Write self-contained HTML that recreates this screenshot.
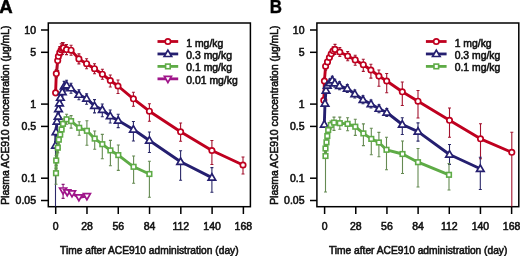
<!DOCTYPE html><html><head><meta charset="utf-8"><style>html,body{margin:0;padding:0;background:#fff;width:520px;height:256px;overflow:hidden}</style></head><body><svg width="520" height="256" viewBox="0 0 520 256" style="display:block;filter:blur(0.3px)">
<rect width="520" height="256" fill="#fff"/>
<text x="-0.70" y="12.7" font-family="Liberation Sans, sans-serif" font-weight="bold" font-size="18.6" stroke="#000" stroke-width="0.5">A</text>
<rect x="48.30" y="23" width="202.1" height="183.7" fill="none" stroke="#000" stroke-width="1.5"/>
<line x1="41.00" y1="30.00" x2="48.30" y2="30.00" stroke="#000" stroke-width="1.5"/>
<text x="36.00" y="33.60" font-family="Liberation Sans, sans-serif" font-size="10.5" stroke="#111" stroke-width="0.55" text-anchor="end" fill="#111">10</text>
<line x1="41.00" y1="52.31" x2="48.30" y2="52.31" stroke="#000" stroke-width="1.5"/>
<text x="36.00" y="55.91" font-family="Liberation Sans, sans-serif" font-size="10.5" stroke="#111" stroke-width="0.55" text-anchor="end" fill="#111">5</text>
<line x1="41.00" y1="104.10" x2="48.30" y2="104.10" stroke="#000" stroke-width="1.5"/>
<text x="36.00" y="107.70" font-family="Liberation Sans, sans-serif" font-size="10.5" stroke="#111" stroke-width="0.55" text-anchor="end" fill="#111">1</text>
<line x1="41.00" y1="126.41" x2="48.30" y2="126.41" stroke="#000" stroke-width="1.5"/>
<text x="36.00" y="130.01" font-family="Liberation Sans, sans-serif" font-size="10.5" stroke="#111" stroke-width="0.55" text-anchor="end" fill="#111">0.5</text>
<line x1="41.00" y1="178.20" x2="48.30" y2="178.20" stroke="#000" stroke-width="1.5"/>
<text x="36.00" y="181.80" font-family="Liberation Sans, sans-serif" font-size="10.5" stroke="#111" stroke-width="0.55" text-anchor="end" fill="#111">0.1</text>
<line x1="41.00" y1="200.51" x2="48.30" y2="200.51" stroke="#000" stroke-width="1.5"/>
<text x="36.00" y="204.11" font-family="Liberation Sans, sans-serif" font-size="10.5" stroke="#111" stroke-width="0.55" text-anchor="end" fill="#111">0.05</text>
<line x1="55.70" y1="206.7" x2="55.70" y2="214" stroke="#000" stroke-width="1.5"/>
<text x="55.70" y="229.6" font-family="Liberation Sans, sans-serif" font-size="10.5" stroke="#111" stroke-width="0.55" text-anchor="middle" fill="#111">0</text>
<line x1="86.98" y1="206.7" x2="86.98" y2="214" stroke="#000" stroke-width="1.5"/>
<text x="86.98" y="229.6" font-family="Liberation Sans, sans-serif" font-size="10.5" stroke="#111" stroke-width="0.55" text-anchor="middle" fill="#111">28</text>
<line x1="118.26" y1="206.7" x2="118.26" y2="214" stroke="#000" stroke-width="1.5"/>
<text x="118.26" y="229.6" font-family="Liberation Sans, sans-serif" font-size="10.5" stroke="#111" stroke-width="0.55" text-anchor="middle" fill="#111">56</text>
<line x1="149.54" y1="206.7" x2="149.54" y2="214" stroke="#000" stroke-width="1.5"/>
<text x="149.54" y="229.6" font-family="Liberation Sans, sans-serif" font-size="10.5" stroke="#111" stroke-width="0.55" text-anchor="middle" fill="#111">84</text>
<line x1="180.82" y1="206.7" x2="180.82" y2="214" stroke="#000" stroke-width="1.5"/>
<text x="180.82" y="229.6" font-family="Liberation Sans, sans-serif" font-size="10.5" stroke="#111" stroke-width="0.55" text-anchor="middle" fill="#111">112</text>
<line x1="212.10" y1="206.7" x2="212.10" y2="214" stroke="#000" stroke-width="1.5"/>
<text x="212.10" y="229.6" font-family="Liberation Sans, sans-serif" font-size="10.5" stroke="#111" stroke-width="0.55" text-anchor="middle" fill="#111">140</text>
<line x1="243.38" y1="206.7" x2="243.38" y2="214" stroke="#000" stroke-width="1.5"/>
<text x="243.38" y="229.6" font-family="Liberation Sans, sans-serif" font-size="10.5" stroke="#111" stroke-width="0.55" text-anchor="middle" fill="#111">168</text>
<text x="60.10" y="253.6" font-family="Liberation Sans, sans-serif" font-size="10.2" stroke="#111" stroke-width="0.55" textLength="178.5" lengthAdjust="spacingAndGlyphs" fill="#111">Time after ACE910 administration (day)</text>
<text transform="translate(9.30,204.8) rotate(-90)" font-family="Liberation Sans, sans-serif" font-size="10.2" stroke="#111" stroke-width="0.55" textLength="179.2" lengthAdjust="spacingAndGlyphs" fill="#111">Plasma ACE910 concentration (μg/mL)</text>
<text transform="translate(269.8,12.8) scale(0.9,1)" x="0" y="0" font-family="Liberation Sans, sans-serif" font-weight="bold" font-size="18.8" stroke="#000" stroke-width="0.4">B</text>
<rect x="316.90" y="23" width="201.9" height="183.7" fill="none" stroke="#000" stroke-width="1.5"/>
<line x1="310.00" y1="30.00" x2="316.90" y2="30.00" stroke="#000" stroke-width="1.5"/>
<text x="304.50" y="33.60" font-family="Liberation Sans, sans-serif" font-size="10.5" stroke="#111" stroke-width="0.55" text-anchor="end" fill="#111">10</text>
<line x1="310.00" y1="52.31" x2="316.90" y2="52.31" stroke="#000" stroke-width="1.5"/>
<text x="304.50" y="55.91" font-family="Liberation Sans, sans-serif" font-size="10.5" stroke="#111" stroke-width="0.55" text-anchor="end" fill="#111">5</text>
<line x1="310.00" y1="104.10" x2="316.90" y2="104.10" stroke="#000" stroke-width="1.5"/>
<text x="304.50" y="107.70" font-family="Liberation Sans, sans-serif" font-size="10.5" stroke="#111" stroke-width="0.55" text-anchor="end" fill="#111">1</text>
<line x1="310.00" y1="126.41" x2="316.90" y2="126.41" stroke="#000" stroke-width="1.5"/>
<text x="304.50" y="130.01" font-family="Liberation Sans, sans-serif" font-size="10.5" stroke="#111" stroke-width="0.55" text-anchor="end" fill="#111">0.5</text>
<line x1="310.00" y1="178.20" x2="316.90" y2="178.20" stroke="#000" stroke-width="1.5"/>
<text x="304.50" y="181.80" font-family="Liberation Sans, sans-serif" font-size="10.5" stroke="#111" stroke-width="0.55" text-anchor="end" fill="#111">0.1</text>
<line x1="310.00" y1="200.51" x2="316.90" y2="200.51" stroke="#000" stroke-width="1.5"/>
<text x="304.50" y="204.11" font-family="Liberation Sans, sans-serif" font-size="10.5" stroke="#111" stroke-width="0.55" text-anchor="end" fill="#111">0.05</text>
<line x1="324.60" y1="206.7" x2="324.60" y2="214" stroke="#000" stroke-width="1.5"/>
<text x="324.60" y="229.6" font-family="Liberation Sans, sans-serif" font-size="10.5" stroke="#111" stroke-width="0.55" text-anchor="middle" fill="#111">0</text>
<line x1="355.77" y1="206.7" x2="355.77" y2="214" stroke="#000" stroke-width="1.5"/>
<text x="355.77" y="229.6" font-family="Liberation Sans, sans-serif" font-size="10.5" stroke="#111" stroke-width="0.55" text-anchor="middle" fill="#111">28</text>
<line x1="386.94" y1="206.7" x2="386.94" y2="214" stroke="#000" stroke-width="1.5"/>
<text x="386.94" y="229.6" font-family="Liberation Sans, sans-serif" font-size="10.5" stroke="#111" stroke-width="0.55" text-anchor="middle" fill="#111">56</text>
<line x1="418.11" y1="206.7" x2="418.11" y2="214" stroke="#000" stroke-width="1.5"/>
<text x="418.11" y="229.6" font-family="Liberation Sans, sans-serif" font-size="10.5" stroke="#111" stroke-width="0.55" text-anchor="middle" fill="#111">84</text>
<line x1="449.28" y1="206.7" x2="449.28" y2="214" stroke="#000" stroke-width="1.5"/>
<text x="449.28" y="229.6" font-family="Liberation Sans, sans-serif" font-size="10.5" stroke="#111" stroke-width="0.55" text-anchor="middle" fill="#111">112</text>
<line x1="480.45" y1="206.7" x2="480.45" y2="214" stroke="#000" stroke-width="1.5"/>
<text x="480.45" y="229.6" font-family="Liberation Sans, sans-serif" font-size="10.5" stroke="#111" stroke-width="0.55" text-anchor="middle" fill="#111">140</text>
<line x1="511.62" y1="206.7" x2="511.62" y2="214" stroke="#000" stroke-width="1.5"/>
<text x="511.62" y="229.6" font-family="Liberation Sans, sans-serif" font-size="10.5" stroke="#111" stroke-width="0.55" text-anchor="middle" fill="#111">168</text>
<text x="328.90" y="253.6" font-family="Liberation Sans, sans-serif" font-size="10.2" stroke="#111" stroke-width="0.55" textLength="178.5" lengthAdjust="spacingAndGlyphs" fill="#111">Time after ACE910 administration (day)</text>
<text transform="translate(277.80,204.8) rotate(-90)" font-family="Liberation Sans, sans-serif" font-size="10.2" stroke="#111" stroke-width="0.55" textLength="179.2" lengthAdjust="spacingAndGlyphs" fill="#111">Plasma ACE910 concentration (μg/mL)</text>
<clipPath id="ca"><rect x="48.3" y="23" width="202.1" height="183.7"/></clipPath>
<clipPath id="cb"><rect x="316.9" y="23" width="201.9" height="183.7"/></clipPath>
<g clip-path="url(#ca)">
<path d="M55.60 92.80 L56.30 73.60 L57.70 60.60 L58.40 56.30 L59.80 52.50 L61.20 49.80 L62.40 48.50 L63.40 47.80 L66.50 49.60 L71.10 50.20 L78.90 58.90 L86.60 63.70 L94.50 68.70 L102.40 74.20 L110.30 80.50 L118.00 86.00 L133.40 98.80 L149.40 111.20 L180.60 131.80 L211.90 150.50 L243.00 165.00" fill="none" stroke="#bf001f" stroke-width="2.9" stroke-linejoin="round"/>
<line x1="55.60" y1="89.80" x2="55.60" y2="95.80" stroke="#a3132e" stroke-width="1.1"/>
<line x1="54.10" y1="89.80" x2="57.10" y2="89.80" stroke="#a3132e" stroke-width="1.1"/>
<line x1="54.10" y1="95.80" x2="57.10" y2="95.80" stroke="#a3132e" stroke-width="1.1"/>
<line x1="56.30" y1="69.60" x2="56.30" y2="77.60" stroke="#a3132e" stroke-width="1.1"/>
<line x1="54.80" y1="69.60" x2="57.80" y2="69.60" stroke="#a3132e" stroke-width="1.1"/>
<line x1="54.80" y1="77.60" x2="57.80" y2="77.60" stroke="#a3132e" stroke-width="1.1"/>
<line x1="57.70" y1="55.60" x2="57.70" y2="70.60" stroke="#a3132e" stroke-width="1.1"/>
<line x1="56.20" y1="55.60" x2="59.20" y2="55.60" stroke="#a3132e" stroke-width="1.1"/>
<line x1="56.20" y1="70.60" x2="59.20" y2="70.60" stroke="#a3132e" stroke-width="1.1"/>
<line x1="58.40" y1="51.30" x2="58.40" y2="61.30" stroke="#a3132e" stroke-width="1.1"/>
<line x1="56.90" y1="51.30" x2="59.90" y2="51.30" stroke="#a3132e" stroke-width="1.1"/>
<line x1="56.90" y1="61.30" x2="59.90" y2="61.30" stroke="#a3132e" stroke-width="1.1"/>
<line x1="59.80" y1="46.50" x2="59.80" y2="58.50" stroke="#a3132e" stroke-width="1.1"/>
<line x1="58.30" y1="46.50" x2="61.30" y2="46.50" stroke="#a3132e" stroke-width="1.1"/>
<line x1="58.30" y1="58.50" x2="61.30" y2="58.50" stroke="#a3132e" stroke-width="1.1"/>
<line x1="61.20" y1="43.80" x2="61.20" y2="55.80" stroke="#a3132e" stroke-width="1.1"/>
<line x1="59.70" y1="43.80" x2="62.70" y2="43.80" stroke="#a3132e" stroke-width="1.1"/>
<line x1="59.70" y1="55.80" x2="62.70" y2="55.80" stroke="#a3132e" stroke-width="1.1"/>
<line x1="62.40" y1="42.50" x2="62.40" y2="54.50" stroke="#a3132e" stroke-width="1.1"/>
<line x1="60.90" y1="42.50" x2="63.90" y2="42.50" stroke="#a3132e" stroke-width="1.1"/>
<line x1="60.90" y1="54.50" x2="63.90" y2="54.50" stroke="#a3132e" stroke-width="1.1"/>
<line x1="63.40" y1="42.80" x2="63.40" y2="52.80" stroke="#a3132e" stroke-width="1.1"/>
<line x1="61.90" y1="42.80" x2="64.90" y2="42.80" stroke="#a3132e" stroke-width="1.1"/>
<line x1="61.90" y1="52.80" x2="64.90" y2="52.80" stroke="#a3132e" stroke-width="1.1"/>
<line x1="66.50" y1="44.60" x2="66.50" y2="54.60" stroke="#a3132e" stroke-width="1.1"/>
<line x1="65.00" y1="44.60" x2="68.00" y2="44.60" stroke="#a3132e" stroke-width="1.1"/>
<line x1="65.00" y1="54.60" x2="68.00" y2="54.60" stroke="#a3132e" stroke-width="1.1"/>
<line x1="71.10" y1="45.20" x2="71.10" y2="55.20" stroke="#a3132e" stroke-width="1.1"/>
<line x1="69.60" y1="45.20" x2="72.60" y2="45.20" stroke="#a3132e" stroke-width="1.1"/>
<line x1="69.60" y1="55.20" x2="72.60" y2="55.20" stroke="#a3132e" stroke-width="1.1"/>
<line x1="78.90" y1="53.90" x2="78.90" y2="63.90" stroke="#a3132e" stroke-width="1.1"/>
<line x1="77.40" y1="53.90" x2="80.40" y2="53.90" stroke="#a3132e" stroke-width="1.1"/>
<line x1="77.40" y1="63.90" x2="80.40" y2="63.90" stroke="#a3132e" stroke-width="1.1"/>
<line x1="86.60" y1="58.70" x2="86.60" y2="68.70" stroke="#a3132e" stroke-width="1.1"/>
<line x1="85.10" y1="58.70" x2="88.10" y2="58.70" stroke="#a3132e" stroke-width="1.1"/>
<line x1="85.10" y1="68.70" x2="88.10" y2="68.70" stroke="#a3132e" stroke-width="1.1"/>
<line x1="94.50" y1="63.70" x2="94.50" y2="73.70" stroke="#a3132e" stroke-width="1.1"/>
<line x1="93.00" y1="63.70" x2="96.00" y2="63.70" stroke="#a3132e" stroke-width="1.1"/>
<line x1="93.00" y1="73.70" x2="96.00" y2="73.70" stroke="#a3132e" stroke-width="1.1"/>
<line x1="102.40" y1="69.20" x2="102.40" y2="79.20" stroke="#a3132e" stroke-width="1.1"/>
<line x1="100.90" y1="69.20" x2="103.90" y2="69.20" stroke="#a3132e" stroke-width="1.1"/>
<line x1="100.90" y1="79.20" x2="103.90" y2="79.20" stroke="#a3132e" stroke-width="1.1"/>
<line x1="110.30" y1="75.00" x2="110.30" y2="87.00" stroke="#a3132e" stroke-width="1.1"/>
<line x1="108.80" y1="75.00" x2="111.80" y2="75.00" stroke="#a3132e" stroke-width="1.1"/>
<line x1="108.80" y1="87.00" x2="111.80" y2="87.00" stroke="#a3132e" stroke-width="1.1"/>
<line x1="118.00" y1="80.00" x2="118.00" y2="93.50" stroke="#a3132e" stroke-width="1.1"/>
<line x1="116.50" y1="80.00" x2="119.50" y2="80.00" stroke="#a3132e" stroke-width="1.1"/>
<line x1="116.50" y1="93.50" x2="119.50" y2="93.50" stroke="#a3132e" stroke-width="1.1"/>
<line x1="133.40" y1="92.30" x2="133.40" y2="106.30" stroke="#a3132e" stroke-width="1.1"/>
<line x1="131.90" y1="92.30" x2="134.90" y2="92.30" stroke="#a3132e" stroke-width="1.1"/>
<line x1="131.90" y1="106.30" x2="134.90" y2="106.30" stroke="#a3132e" stroke-width="1.1"/>
<line x1="149.40" y1="103.70" x2="149.40" y2="121.20" stroke="#a3132e" stroke-width="1.1"/>
<line x1="147.90" y1="103.70" x2="150.90" y2="103.70" stroke="#a3132e" stroke-width="1.1"/>
<line x1="147.90" y1="121.20" x2="150.90" y2="121.20" stroke="#a3132e" stroke-width="1.1"/>
<line x1="180.60" y1="123.00" x2="180.60" y2="141.30" stroke="#a3132e" stroke-width="1.1"/>
<line x1="179.10" y1="123.00" x2="182.10" y2="123.00" stroke="#a3132e" stroke-width="1.1"/>
<line x1="179.10" y1="141.30" x2="182.10" y2="141.30" stroke="#a3132e" stroke-width="1.1"/>
<line x1="211.90" y1="140.50" x2="211.90" y2="164.50" stroke="#a3132e" stroke-width="1.1"/>
<line x1="210.40" y1="140.50" x2="213.40" y2="140.50" stroke="#a3132e" stroke-width="1.1"/>
<line x1="210.40" y1="164.50" x2="213.40" y2="164.50" stroke="#a3132e" stroke-width="1.1"/>
<line x1="243.00" y1="157.00" x2="243.00" y2="174.00" stroke="#a3132e" stroke-width="1.1"/>
<line x1="241.50" y1="157.00" x2="244.50" y2="157.00" stroke="#a3132e" stroke-width="1.1"/>
<line x1="241.50" y1="174.00" x2="244.50" y2="174.00" stroke="#a3132e" stroke-width="1.1"/>
<circle cx="55.60" cy="92.80" r="2.7" fill="#fff" stroke="#bf001f" stroke-width="1.7"/>
<circle cx="56.30" cy="73.60" r="2.7" fill="#fff" stroke="#bf001f" stroke-width="1.7"/>
<circle cx="57.70" cy="60.60" r="2.7" fill="#fff" stroke="#bf001f" stroke-width="1.7"/>
<circle cx="58.40" cy="56.30" r="2.7" fill="#fff" stroke="#bf001f" stroke-width="1.7"/>
<circle cx="59.80" cy="52.50" r="2.7" fill="#fff" stroke="#bf001f" stroke-width="1.7"/>
<circle cx="61.20" cy="49.80" r="2.7" fill="#fff" stroke="#bf001f" stroke-width="1.7"/>
<circle cx="62.40" cy="48.50" r="2.7" fill="#fff" stroke="#bf001f" stroke-width="1.7"/>
<circle cx="63.40" cy="47.80" r="2.7" fill="#fff" stroke="#bf001f" stroke-width="1.7"/>
<circle cx="66.50" cy="49.60" r="2.7" fill="#fff" stroke="#bf001f" stroke-width="1.7"/>
<circle cx="71.10" cy="50.20" r="2.7" fill="#fff" stroke="#bf001f" stroke-width="1.7"/>
<circle cx="78.90" cy="58.90" r="2.7" fill="#fff" stroke="#bf001f" stroke-width="1.7"/>
<circle cx="86.60" cy="63.70" r="2.7" fill="#fff" stroke="#bf001f" stroke-width="1.7"/>
<circle cx="94.50" cy="68.70" r="2.7" fill="#fff" stroke="#bf001f" stroke-width="1.7"/>
<circle cx="102.40" cy="74.20" r="2.7" fill="#fff" stroke="#bf001f" stroke-width="1.7"/>
<circle cx="110.30" cy="80.50" r="2.7" fill="#fff" stroke="#bf001f" stroke-width="1.7"/>
<circle cx="118.00" cy="86.00" r="2.7" fill="#fff" stroke="#bf001f" stroke-width="1.7"/>
<circle cx="133.40" cy="98.80" r="2.7" fill="#fff" stroke="#bf001f" stroke-width="1.7"/>
<circle cx="149.40" cy="111.20" r="2.7" fill="#fff" stroke="#bf001f" stroke-width="1.7"/>
<circle cx="180.60" cy="131.80" r="2.7" fill="#fff" stroke="#bf001f" stroke-width="1.7"/>
<circle cx="211.90" cy="150.50" r="2.7" fill="#fff" stroke="#bf001f" stroke-width="1.7"/>
<circle cx="243.00" cy="165.00" r="2.7" fill="#fff" stroke="#bf001f" stroke-width="1.7"/>
<path d="M55.50 145.50 L56.00 132.00 L57.00 121.50 L58.10 116.50 L58.50 109.00 L59.50 103.30 L60.40 97.70 L62.30 92.00 L64.20 86.40 L66.60 85.20 L71.00 88.20 L78.90 94.70 L86.60 98.50 L94.50 105.90 L102.30 109.80 L110.20 116.00 L118.20 120.60 L133.40 129.50 L149.40 140.50 L180.60 161.80 L211.90 177.60" fill="none" stroke="#251f70" stroke-width="2.9" stroke-linejoin="round"/>
<line x1="55.50" y1="141.50" x2="55.50" y2="206.70" stroke="#2a2868" stroke-width="1.1"/>
<line x1="54.00" y1="141.50" x2="57.00" y2="141.50" stroke="#2a2868" stroke-width="1.1"/>
<line x1="56.00" y1="128.00" x2="56.00" y2="136.00" stroke="#2a2868" stroke-width="1.1"/>
<line x1="54.50" y1="128.00" x2="57.50" y2="128.00" stroke="#2a2868" stroke-width="1.1"/>
<line x1="54.50" y1="136.00" x2="57.50" y2="136.00" stroke="#2a2868" stroke-width="1.1"/>
<line x1="57.00" y1="118.50" x2="57.00" y2="124.50" stroke="#2a2868" stroke-width="1.1"/>
<line x1="55.50" y1="118.50" x2="58.50" y2="118.50" stroke="#2a2868" stroke-width="1.1"/>
<line x1="55.50" y1="124.50" x2="58.50" y2="124.50" stroke="#2a2868" stroke-width="1.1"/>
<line x1="58.10" y1="113.50" x2="58.10" y2="119.50" stroke="#2a2868" stroke-width="1.1"/>
<line x1="56.60" y1="113.50" x2="59.60" y2="113.50" stroke="#2a2868" stroke-width="1.1"/>
<line x1="56.60" y1="119.50" x2="59.60" y2="119.50" stroke="#2a2868" stroke-width="1.1"/>
<line x1="58.50" y1="106.00" x2="58.50" y2="112.00" stroke="#2a2868" stroke-width="1.1"/>
<line x1="57.00" y1="106.00" x2="60.00" y2="106.00" stroke="#2a2868" stroke-width="1.1"/>
<line x1="57.00" y1="112.00" x2="60.00" y2="112.00" stroke="#2a2868" stroke-width="1.1"/>
<line x1="59.50" y1="99.30" x2="59.50" y2="107.30" stroke="#2a2868" stroke-width="1.1"/>
<line x1="58.00" y1="99.30" x2="61.00" y2="99.30" stroke="#2a2868" stroke-width="1.1"/>
<line x1="58.00" y1="107.30" x2="61.00" y2="107.30" stroke="#2a2868" stroke-width="1.1"/>
<line x1="60.40" y1="93.70" x2="60.40" y2="101.70" stroke="#2a2868" stroke-width="1.1"/>
<line x1="58.90" y1="93.70" x2="61.90" y2="93.70" stroke="#2a2868" stroke-width="1.1"/>
<line x1="58.90" y1="101.70" x2="61.90" y2="101.70" stroke="#2a2868" stroke-width="1.1"/>
<line x1="62.30" y1="88.00" x2="62.30" y2="96.00" stroke="#2a2868" stroke-width="1.1"/>
<line x1="60.80" y1="88.00" x2="63.80" y2="88.00" stroke="#2a2868" stroke-width="1.1"/>
<line x1="60.80" y1="96.00" x2="63.80" y2="96.00" stroke="#2a2868" stroke-width="1.1"/>
<line x1="64.20" y1="81.40" x2="64.20" y2="91.40" stroke="#2a2868" stroke-width="1.1"/>
<line x1="62.70" y1="81.40" x2="65.70" y2="81.40" stroke="#2a2868" stroke-width="1.1"/>
<line x1="62.70" y1="91.40" x2="65.70" y2="91.40" stroke="#2a2868" stroke-width="1.1"/>
<line x1="66.60" y1="80.20" x2="66.60" y2="90.20" stroke="#2a2868" stroke-width="1.1"/>
<line x1="65.10" y1="80.20" x2="68.10" y2="80.20" stroke="#2a2868" stroke-width="1.1"/>
<line x1="65.10" y1="90.20" x2="68.10" y2="90.20" stroke="#2a2868" stroke-width="1.1"/>
<line x1="71.00" y1="83.20" x2="71.00" y2="93.20" stroke="#2a2868" stroke-width="1.1"/>
<line x1="69.50" y1="83.20" x2="72.50" y2="83.20" stroke="#2a2868" stroke-width="1.1"/>
<line x1="69.50" y1="93.20" x2="72.50" y2="93.20" stroke="#2a2868" stroke-width="1.1"/>
<line x1="78.90" y1="89.70" x2="78.90" y2="99.70" stroke="#2a2868" stroke-width="1.1"/>
<line x1="77.40" y1="89.70" x2="80.40" y2="89.70" stroke="#2a2868" stroke-width="1.1"/>
<line x1="77.40" y1="99.70" x2="80.40" y2="99.70" stroke="#2a2868" stroke-width="1.1"/>
<line x1="86.60" y1="93.90" x2="86.60" y2="104.30" stroke="#2a2868" stroke-width="1.1"/>
<line x1="85.10" y1="93.90" x2="88.10" y2="93.90" stroke="#2a2868" stroke-width="1.1"/>
<line x1="85.10" y1="104.30" x2="88.10" y2="104.30" stroke="#2a2868" stroke-width="1.1"/>
<line x1="94.50" y1="99.60" x2="94.50" y2="112.90" stroke="#2a2868" stroke-width="1.1"/>
<line x1="93.00" y1="99.60" x2="96.00" y2="99.60" stroke="#2a2868" stroke-width="1.1"/>
<line x1="93.00" y1="112.90" x2="96.00" y2="112.90" stroke="#2a2868" stroke-width="1.1"/>
<line x1="102.30" y1="104.00" x2="102.30" y2="116.80" stroke="#2a2868" stroke-width="1.1"/>
<line x1="100.80" y1="104.00" x2="103.80" y2="104.00" stroke="#2a2868" stroke-width="1.1"/>
<line x1="100.80" y1="116.80" x2="103.80" y2="116.80" stroke="#2a2868" stroke-width="1.1"/>
<line x1="110.20" y1="110.00" x2="110.20" y2="123.00" stroke="#2a2868" stroke-width="1.1"/>
<line x1="108.70" y1="110.00" x2="111.70" y2="110.00" stroke="#2a2868" stroke-width="1.1"/>
<line x1="108.70" y1="123.00" x2="111.70" y2="123.00" stroke="#2a2868" stroke-width="1.1"/>
<line x1="118.20" y1="114.20" x2="118.20" y2="127.60" stroke="#2a2868" stroke-width="1.1"/>
<line x1="116.70" y1="114.20" x2="119.70" y2="114.20" stroke="#2a2868" stroke-width="1.1"/>
<line x1="116.70" y1="127.60" x2="119.70" y2="127.60" stroke="#2a2868" stroke-width="1.1"/>
<line x1="133.40" y1="121.50" x2="133.40" y2="141.00" stroke="#2a2868" stroke-width="1.1"/>
<line x1="131.90" y1="121.50" x2="134.90" y2="121.50" stroke="#2a2868" stroke-width="1.1"/>
<line x1="131.90" y1="141.00" x2="134.90" y2="141.00" stroke="#2a2868" stroke-width="1.1"/>
<line x1="149.40" y1="132.00" x2="149.40" y2="152.50" stroke="#2a2868" stroke-width="1.1"/>
<line x1="147.90" y1="132.00" x2="150.90" y2="132.00" stroke="#2a2868" stroke-width="1.1"/>
<line x1="147.90" y1="152.50" x2="150.90" y2="152.50" stroke="#2a2868" stroke-width="1.1"/>
<line x1="180.60" y1="150.80" x2="180.60" y2="180.30" stroke="#2a2868" stroke-width="1.1"/>
<line x1="179.10" y1="150.80" x2="182.10" y2="150.80" stroke="#2a2868" stroke-width="1.1"/>
<line x1="179.10" y1="180.30" x2="182.10" y2="180.30" stroke="#2a2868" stroke-width="1.1"/>
<line x1="211.90" y1="167.60" x2="211.90" y2="192.30" stroke="#2a2868" stroke-width="1.1"/>
<line x1="210.40" y1="167.60" x2="213.40" y2="167.60" stroke="#2a2868" stroke-width="1.1"/>
<line x1="210.40" y1="192.30" x2="213.40" y2="192.30" stroke="#2a2868" stroke-width="1.1"/>
<path d="M55.50 141.66L59.25 148.06L51.75 148.06Z" fill="#fff" stroke="#251f70" stroke-width="1.7" stroke-linejoin="miter"/>
<path d="M56.00 128.16L59.75 134.56L52.25 134.56Z" fill="#fff" stroke="#251f70" stroke-width="1.7" stroke-linejoin="miter"/>
<path d="M57.00 117.66L60.75 124.06L53.25 124.06Z" fill="#fff" stroke="#251f70" stroke-width="1.7" stroke-linejoin="miter"/>
<path d="M58.10 112.66L61.85 119.06L54.35 119.06Z" fill="#fff" stroke="#251f70" stroke-width="1.7" stroke-linejoin="miter"/>
<path d="M58.50 105.16L62.25 111.56L54.75 111.56Z" fill="#fff" stroke="#251f70" stroke-width="1.7" stroke-linejoin="miter"/>
<path d="M59.50 99.46L63.25 105.86L55.75 105.86Z" fill="#fff" stroke="#251f70" stroke-width="1.7" stroke-linejoin="miter"/>
<path d="M60.40 93.86L64.15 100.26L56.65 100.26Z" fill="#fff" stroke="#251f70" stroke-width="1.7" stroke-linejoin="miter"/>
<path d="M62.30 88.16L66.05 94.56L58.55 94.56Z" fill="#fff" stroke="#251f70" stroke-width="1.7" stroke-linejoin="miter"/>
<path d="M64.20 82.56L67.95 88.96L60.45 88.96Z" fill="#fff" stroke="#251f70" stroke-width="1.7" stroke-linejoin="miter"/>
<path d="M66.60 81.36L70.35 87.76L62.85 87.76Z" fill="#fff" stroke="#251f70" stroke-width="1.7" stroke-linejoin="miter"/>
<path d="M71.00 84.36L74.75 90.76L67.25 90.76Z" fill="#fff" stroke="#251f70" stroke-width="1.7" stroke-linejoin="miter"/>
<path d="M78.90 90.86L82.65 97.26L75.15 97.26Z" fill="#fff" stroke="#251f70" stroke-width="1.7" stroke-linejoin="miter"/>
<path d="M86.60 94.66L90.35 101.06L82.85 101.06Z" fill="#fff" stroke="#251f70" stroke-width="1.7" stroke-linejoin="miter"/>
<path d="M94.50 102.06L98.25 108.46L90.75 108.46Z" fill="#fff" stroke="#251f70" stroke-width="1.7" stroke-linejoin="miter"/>
<path d="M102.30 105.96L106.05 112.36L98.55 112.36Z" fill="#fff" stroke="#251f70" stroke-width="1.7" stroke-linejoin="miter"/>
<path d="M110.20 112.16L113.95 118.56L106.45 118.56Z" fill="#fff" stroke="#251f70" stroke-width="1.7" stroke-linejoin="miter"/>
<path d="M118.20 116.76L121.95 123.16L114.45 123.16Z" fill="#fff" stroke="#251f70" stroke-width="1.7" stroke-linejoin="miter"/>
<path d="M133.40 125.66L137.15 132.06L129.65 132.06Z" fill="#fff" stroke="#251f70" stroke-width="1.7" stroke-linejoin="miter"/>
<path d="M149.40 136.66L153.15 143.06L145.65 143.06Z" fill="#fff" stroke="#251f70" stroke-width="1.7" stroke-linejoin="miter"/>
<path d="M180.60 157.96L184.35 164.36L176.85 164.36Z" fill="#fff" stroke="#251f70" stroke-width="1.7" stroke-linejoin="miter"/>
<path d="M211.90 173.76L215.65 180.16L208.15 180.16Z" fill="#fff" stroke="#251f70" stroke-width="1.7" stroke-linejoin="miter"/>
<path d="M56.00 173.20 L56.20 160.50 L57.80 147.70 L58.80 139.70 L60.20 134.60 L61.60 129.50 L63.00 123.80 L66.60 119.30 L71.10 121.10 L79.20 127.80 L86.90 130.80 L94.70 138.60 L102.30 144.20 L110.40 150.40 L118.30 155.10 L133.60 166.80 L149.40 174.00" fill="none" stroke="#5eab46" stroke-width="2.9" stroke-linejoin="round"/>
<line x1="56.00" y1="168.20" x2="56.00" y2="184.20" stroke="#658a52" stroke-width="1.1"/>
<line x1="54.50" y1="168.20" x2="57.50" y2="168.20" stroke="#658a52" stroke-width="1.1"/>
<line x1="54.50" y1="184.20" x2="57.50" y2="184.20" stroke="#658a52" stroke-width="1.1"/>
<line x1="56.20" y1="155.50" x2="56.20" y2="165.50" stroke="#658a52" stroke-width="1.1"/>
<line x1="54.70" y1="155.50" x2="57.70" y2="155.50" stroke="#658a52" stroke-width="1.1"/>
<line x1="54.70" y1="165.50" x2="57.70" y2="165.50" stroke="#658a52" stroke-width="1.1"/>
<line x1="57.80" y1="142.70" x2="57.80" y2="152.70" stroke="#658a52" stroke-width="1.1"/>
<line x1="56.30" y1="142.70" x2="59.30" y2="142.70" stroke="#658a52" stroke-width="1.1"/>
<line x1="56.30" y1="152.70" x2="59.30" y2="152.70" stroke="#658a52" stroke-width="1.1"/>
<line x1="58.80" y1="134.70" x2="58.80" y2="144.70" stroke="#658a52" stroke-width="1.1"/>
<line x1="57.30" y1="134.70" x2="60.30" y2="134.70" stroke="#658a52" stroke-width="1.1"/>
<line x1="57.30" y1="144.70" x2="60.30" y2="144.70" stroke="#658a52" stroke-width="1.1"/>
<line x1="60.20" y1="129.60" x2="60.20" y2="139.60" stroke="#658a52" stroke-width="1.1"/>
<line x1="58.70" y1="129.60" x2="61.70" y2="129.60" stroke="#658a52" stroke-width="1.1"/>
<line x1="58.70" y1="139.60" x2="61.70" y2="139.60" stroke="#658a52" stroke-width="1.1"/>
<line x1="61.60" y1="124.50" x2="61.60" y2="134.50" stroke="#658a52" stroke-width="1.1"/>
<line x1="60.10" y1="124.50" x2="63.10" y2="124.50" stroke="#658a52" stroke-width="1.1"/>
<line x1="60.10" y1="134.50" x2="63.10" y2="134.50" stroke="#658a52" stroke-width="1.1"/>
<line x1="63.00" y1="118.80" x2="63.00" y2="128.80" stroke="#658a52" stroke-width="1.1"/>
<line x1="61.50" y1="118.80" x2="64.50" y2="118.80" stroke="#658a52" stroke-width="1.1"/>
<line x1="61.50" y1="128.80" x2="64.50" y2="128.80" stroke="#658a52" stroke-width="1.1"/>
<line x1="66.60" y1="114.30" x2="66.60" y2="124.30" stroke="#658a52" stroke-width="1.1"/>
<line x1="65.10" y1="114.30" x2="68.10" y2="114.30" stroke="#658a52" stroke-width="1.1"/>
<line x1="65.10" y1="124.30" x2="68.10" y2="124.30" stroke="#658a52" stroke-width="1.1"/>
<line x1="71.10" y1="115.60" x2="71.10" y2="128.10" stroke="#658a52" stroke-width="1.1"/>
<line x1="69.60" y1="115.60" x2="72.60" y2="115.60" stroke="#658a52" stroke-width="1.1"/>
<line x1="69.60" y1="128.10" x2="72.60" y2="128.10" stroke="#658a52" stroke-width="1.1"/>
<line x1="79.20" y1="121.80" x2="79.20" y2="135.30" stroke="#658a52" stroke-width="1.1"/>
<line x1="77.70" y1="121.80" x2="80.70" y2="121.80" stroke="#658a52" stroke-width="1.1"/>
<line x1="77.70" y1="135.30" x2="80.70" y2="135.30" stroke="#658a52" stroke-width="1.1"/>
<line x1="86.90" y1="120.80" x2="86.90" y2="145.20" stroke="#658a52" stroke-width="1.1"/>
<line x1="85.40" y1="120.80" x2="88.40" y2="120.80" stroke="#658a52" stroke-width="1.1"/>
<line x1="85.40" y1="145.20" x2="88.40" y2="145.20" stroke="#658a52" stroke-width="1.1"/>
<line x1="94.70" y1="131.00" x2="94.70" y2="149.20" stroke="#658a52" stroke-width="1.1"/>
<line x1="93.20" y1="131.00" x2="96.20" y2="131.00" stroke="#658a52" stroke-width="1.1"/>
<line x1="93.20" y1="149.20" x2="96.20" y2="149.20" stroke="#658a52" stroke-width="1.1"/>
<line x1="102.30" y1="134.40" x2="102.30" y2="158.80" stroke="#658a52" stroke-width="1.1"/>
<line x1="100.80" y1="134.40" x2="103.80" y2="134.40" stroke="#658a52" stroke-width="1.1"/>
<line x1="100.80" y1="158.80" x2="103.80" y2="158.80" stroke="#658a52" stroke-width="1.1"/>
<line x1="110.40" y1="140.40" x2="110.40" y2="165.70" stroke="#658a52" stroke-width="1.1"/>
<line x1="108.90" y1="140.40" x2="111.90" y2="140.40" stroke="#658a52" stroke-width="1.1"/>
<line x1="108.90" y1="165.70" x2="111.90" y2="165.70" stroke="#658a52" stroke-width="1.1"/>
<line x1="118.30" y1="145.00" x2="118.30" y2="170.40" stroke="#658a52" stroke-width="1.1"/>
<line x1="116.80" y1="145.00" x2="119.80" y2="145.00" stroke="#658a52" stroke-width="1.1"/>
<line x1="116.80" y1="170.40" x2="119.80" y2="170.40" stroke="#658a52" stroke-width="1.1"/>
<line x1="133.60" y1="156.00" x2="133.60" y2="183.30" stroke="#658a52" stroke-width="1.1"/>
<line x1="132.10" y1="156.00" x2="135.10" y2="156.00" stroke="#658a52" stroke-width="1.1"/>
<line x1="132.10" y1="183.30" x2="135.10" y2="183.30" stroke="#658a52" stroke-width="1.1"/>
<line x1="149.40" y1="161.30" x2="149.40" y2="197.30" stroke="#658a52" stroke-width="1.1"/>
<line x1="147.90" y1="161.30" x2="150.90" y2="161.30" stroke="#658a52" stroke-width="1.1"/>
<line x1="147.90" y1="197.30" x2="150.90" y2="197.30" stroke="#658a52" stroke-width="1.1"/>
<rect x="53.70" y="170.90" width="4.6" height="4.6" fill="#fff" stroke="#5eab46" stroke-width="1.6"/>
<rect x="53.90" y="158.20" width="4.6" height="4.6" fill="#fff" stroke="#5eab46" stroke-width="1.6"/>
<rect x="55.50" y="145.40" width="4.6" height="4.6" fill="#fff" stroke="#5eab46" stroke-width="1.6"/>
<rect x="56.50" y="137.40" width="4.6" height="4.6" fill="#fff" stroke="#5eab46" stroke-width="1.6"/>
<rect x="57.90" y="132.30" width="4.6" height="4.6" fill="#fff" stroke="#5eab46" stroke-width="1.6"/>
<rect x="59.30" y="127.20" width="4.6" height="4.6" fill="#fff" stroke="#5eab46" stroke-width="1.6"/>
<rect x="60.70" y="121.50" width="4.6" height="4.6" fill="#fff" stroke="#5eab46" stroke-width="1.6"/>
<rect x="64.30" y="117.00" width="4.6" height="4.6" fill="#fff" stroke="#5eab46" stroke-width="1.6"/>
<rect x="68.80" y="118.80" width="4.6" height="4.6" fill="#fff" stroke="#5eab46" stroke-width="1.6"/>
<rect x="76.90" y="125.50" width="4.6" height="4.6" fill="#fff" stroke="#5eab46" stroke-width="1.6"/>
<rect x="84.60" y="128.50" width="4.6" height="4.6" fill="#fff" stroke="#5eab46" stroke-width="1.6"/>
<rect x="92.40" y="136.30" width="4.6" height="4.6" fill="#fff" stroke="#5eab46" stroke-width="1.6"/>
<rect x="100.00" y="141.90" width="4.6" height="4.6" fill="#fff" stroke="#5eab46" stroke-width="1.6"/>
<rect x="108.10" y="148.10" width="4.6" height="4.6" fill="#fff" stroke="#5eab46" stroke-width="1.6"/>
<rect x="116.00" y="152.80" width="4.6" height="4.6" fill="#fff" stroke="#5eab46" stroke-width="1.6"/>
<rect x="131.30" y="164.50" width="4.6" height="4.6" fill="#fff" stroke="#5eab46" stroke-width="1.6"/>
<rect x="147.10" y="171.70" width="4.6" height="4.6" fill="#fff" stroke="#5eab46" stroke-width="1.6"/>
<path d="M63.10 190.40 L67.20 192.20 L72.00 193.30 L78.90 197.20 L86.90 196.10" fill="none" stroke="#a0168a" stroke-width="2.9" stroke-linejoin="round"/>
<line x1="63.10" y1="184.40" x2="63.10" y2="198.40" stroke="#8c1a78" stroke-width="1.1"/>
<line x1="61.60" y1="184.40" x2="64.60" y2="184.40" stroke="#8c1a78" stroke-width="1.1"/>
<line x1="61.60" y1="198.40" x2="64.60" y2="198.40" stroke="#8c1a78" stroke-width="1.1"/>
<path d="M63.10 194.00L66.60 188.00L59.60 188.00Z" fill="#fff" stroke="#a0168a" stroke-width="1.7"/>
<path d="M67.20 195.80L70.70 189.80L63.70 189.80Z" fill="#fff" stroke="#a0168a" stroke-width="1.7"/>
<path d="M72.00 196.90L75.50 190.90L68.50 190.90Z" fill="#fff" stroke="#a0168a" stroke-width="1.7"/>
<path d="M78.90 200.80L82.40 194.80L75.40 194.80Z" fill="#fff" stroke="#a0168a" stroke-width="1.7"/>
<path d="M86.90 199.70L90.40 193.70L83.40 193.70Z" fill="#fff" stroke="#a0168a" stroke-width="1.7"/>
</g>
<g clip-path="url(#cb)">
<path d="M323.80 100.30 L324.40 81.00 L325.60 66.20 L327.50 61.90 L329.40 57.50 L331.30 53.80 L333.20 50.80 L335.00 49.40 L339.80 52.00 L347.70 56.00 L355.20 59.90 L363.30 64.70 L370.90 70.00 L378.90 76.10 L386.70 81.00 L402.30 91.80 L418.00 101.20 L449.50 120.30 L480.50 138.80 L511.80 152.30" fill="none" stroke="#bf001f" stroke-width="2.9" stroke-linejoin="round"/>
<line x1="323.80" y1="97.30" x2="323.80" y2="103.30" stroke="#a3132e" stroke-width="1.1"/>
<line x1="322.30" y1="97.30" x2="325.30" y2="97.30" stroke="#a3132e" stroke-width="1.1"/>
<line x1="322.30" y1="103.30" x2="325.30" y2="103.30" stroke="#a3132e" stroke-width="1.1"/>
<line x1="324.40" y1="78.00" x2="324.40" y2="84.00" stroke="#a3132e" stroke-width="1.1"/>
<line x1="322.90" y1="78.00" x2="325.90" y2="78.00" stroke="#a3132e" stroke-width="1.1"/>
<line x1="322.90" y1="84.00" x2="325.90" y2="84.00" stroke="#a3132e" stroke-width="1.1"/>
<line x1="325.60" y1="62.20" x2="325.60" y2="70.20" stroke="#a3132e" stroke-width="1.1"/>
<line x1="324.10" y1="62.20" x2="327.10" y2="62.20" stroke="#a3132e" stroke-width="1.1"/>
<line x1="324.10" y1="70.20" x2="327.10" y2="70.20" stroke="#a3132e" stroke-width="1.1"/>
<line x1="327.50" y1="57.90" x2="327.50" y2="65.90" stroke="#a3132e" stroke-width="1.1"/>
<line x1="326.00" y1="57.90" x2="329.00" y2="57.90" stroke="#a3132e" stroke-width="1.1"/>
<line x1="326.00" y1="65.90" x2="329.00" y2="65.90" stroke="#a3132e" stroke-width="1.1"/>
<line x1="329.40" y1="53.50" x2="329.40" y2="61.50" stroke="#a3132e" stroke-width="1.1"/>
<line x1="327.90" y1="53.50" x2="330.90" y2="53.50" stroke="#a3132e" stroke-width="1.1"/>
<line x1="327.90" y1="61.50" x2="330.90" y2="61.50" stroke="#a3132e" stroke-width="1.1"/>
<line x1="331.30" y1="49.80" x2="331.30" y2="57.80" stroke="#a3132e" stroke-width="1.1"/>
<line x1="329.80" y1="49.80" x2="332.80" y2="49.80" stroke="#a3132e" stroke-width="1.1"/>
<line x1="329.80" y1="57.80" x2="332.80" y2="57.80" stroke="#a3132e" stroke-width="1.1"/>
<line x1="333.20" y1="46.80" x2="333.20" y2="54.80" stroke="#a3132e" stroke-width="1.1"/>
<line x1="331.70" y1="46.80" x2="334.70" y2="46.80" stroke="#a3132e" stroke-width="1.1"/>
<line x1="331.70" y1="54.80" x2="334.70" y2="54.80" stroke="#a3132e" stroke-width="1.1"/>
<line x1="335.00" y1="44.40" x2="335.00" y2="54.40" stroke="#a3132e" stroke-width="1.1"/>
<line x1="333.50" y1="44.40" x2="336.50" y2="44.40" stroke="#a3132e" stroke-width="1.1"/>
<line x1="333.50" y1="54.40" x2="336.50" y2="54.40" stroke="#a3132e" stroke-width="1.1"/>
<line x1="339.80" y1="47.50" x2="339.80" y2="56.50" stroke="#a3132e" stroke-width="1.1"/>
<line x1="338.30" y1="47.50" x2="341.30" y2="47.50" stroke="#a3132e" stroke-width="1.1"/>
<line x1="338.30" y1="56.50" x2="341.30" y2="56.50" stroke="#a3132e" stroke-width="1.1"/>
<line x1="347.70" y1="51.50" x2="347.70" y2="60.70" stroke="#a3132e" stroke-width="1.1"/>
<line x1="346.20" y1="51.50" x2="349.20" y2="51.50" stroke="#a3132e" stroke-width="1.1"/>
<line x1="346.20" y1="60.70" x2="349.20" y2="60.70" stroke="#a3132e" stroke-width="1.1"/>
<line x1="355.20" y1="55.20" x2="355.20" y2="65.30" stroke="#a3132e" stroke-width="1.1"/>
<line x1="353.70" y1="55.20" x2="356.70" y2="55.20" stroke="#a3132e" stroke-width="1.1"/>
<line x1="353.70" y1="65.30" x2="356.70" y2="65.30" stroke="#a3132e" stroke-width="1.1"/>
<line x1="363.30" y1="59.20" x2="363.30" y2="71.40" stroke="#a3132e" stroke-width="1.1"/>
<line x1="361.80" y1="59.20" x2="364.80" y2="59.20" stroke="#a3132e" stroke-width="1.1"/>
<line x1="361.80" y1="71.40" x2="364.80" y2="71.40" stroke="#a3132e" stroke-width="1.1"/>
<line x1="370.90" y1="64.30" x2="370.90" y2="78.10" stroke="#a3132e" stroke-width="1.1"/>
<line x1="369.40" y1="64.30" x2="372.40" y2="64.30" stroke="#a3132e" stroke-width="1.1"/>
<line x1="369.40" y1="78.10" x2="372.40" y2="78.10" stroke="#a3132e" stroke-width="1.1"/>
<line x1="378.90" y1="70.00" x2="378.90" y2="86.30" stroke="#a3132e" stroke-width="1.1"/>
<line x1="377.40" y1="70.00" x2="380.40" y2="70.00" stroke="#a3132e" stroke-width="1.1"/>
<line x1="377.40" y1="86.30" x2="380.40" y2="86.30" stroke="#a3132e" stroke-width="1.1"/>
<line x1="386.70" y1="73.50" x2="386.70" y2="92.80" stroke="#a3132e" stroke-width="1.1"/>
<line x1="385.20" y1="73.50" x2="388.20" y2="73.50" stroke="#a3132e" stroke-width="1.1"/>
<line x1="385.20" y1="92.80" x2="388.20" y2="92.80" stroke="#a3132e" stroke-width="1.1"/>
<line x1="402.30" y1="82.00" x2="402.30" y2="105.50" stroke="#a3132e" stroke-width="1.1"/>
<line x1="400.80" y1="82.00" x2="403.80" y2="82.00" stroke="#a3132e" stroke-width="1.1"/>
<line x1="400.80" y1="105.50" x2="403.80" y2="105.50" stroke="#a3132e" stroke-width="1.1"/>
<line x1="418.00" y1="90.50" x2="418.00" y2="118.00" stroke="#a3132e" stroke-width="1.1"/>
<line x1="416.50" y1="90.50" x2="419.50" y2="90.50" stroke="#a3132e" stroke-width="1.1"/>
<line x1="416.50" y1="118.00" x2="419.50" y2="118.00" stroke="#a3132e" stroke-width="1.1"/>
<line x1="449.50" y1="108.00" x2="449.50" y2="137.30" stroke="#a3132e" stroke-width="1.1"/>
<line x1="448.00" y1="108.00" x2="451.00" y2="108.00" stroke="#a3132e" stroke-width="1.1"/>
<line x1="448.00" y1="137.30" x2="451.00" y2="137.30" stroke="#a3132e" stroke-width="1.1"/>
<line x1="480.50" y1="123.80" x2="480.50" y2="158.80" stroke="#a3132e" stroke-width="1.1"/>
<line x1="479.00" y1="123.80" x2="482.00" y2="123.80" stroke="#a3132e" stroke-width="1.1"/>
<line x1="479.00" y1="158.80" x2="482.00" y2="158.80" stroke="#a3132e" stroke-width="1.1"/>
<line x1="511.80" y1="132.30" x2="511.80" y2="206.70" stroke="#a3132e" stroke-width="1.1"/>
<line x1="510.30" y1="132.30" x2="513.30" y2="132.30" stroke="#a3132e" stroke-width="1.1"/>
<circle cx="323.80" cy="100.30" r="2.7" fill="#fff" stroke="#bf001f" stroke-width="1.7"/>
<circle cx="324.40" cy="81.00" r="2.7" fill="#fff" stroke="#bf001f" stroke-width="1.7"/>
<circle cx="325.60" cy="66.20" r="2.7" fill="#fff" stroke="#bf001f" stroke-width="1.7"/>
<circle cx="327.50" cy="61.90" r="2.7" fill="#fff" stroke="#bf001f" stroke-width="1.7"/>
<circle cx="329.40" cy="57.50" r="2.7" fill="#fff" stroke="#bf001f" stroke-width="1.7"/>
<circle cx="331.30" cy="53.80" r="2.7" fill="#fff" stroke="#bf001f" stroke-width="1.7"/>
<circle cx="333.20" cy="50.80" r="2.7" fill="#fff" stroke="#bf001f" stroke-width="1.7"/>
<circle cx="335.00" cy="49.40" r="2.7" fill="#fff" stroke="#bf001f" stroke-width="1.7"/>
<circle cx="339.80" cy="52.00" r="2.7" fill="#fff" stroke="#bf001f" stroke-width="1.7"/>
<circle cx="347.70" cy="56.00" r="2.7" fill="#fff" stroke="#bf001f" stroke-width="1.7"/>
<circle cx="355.20" cy="59.90" r="2.7" fill="#fff" stroke="#bf001f" stroke-width="1.7"/>
<circle cx="363.30" cy="64.70" r="2.7" fill="#fff" stroke="#bf001f" stroke-width="1.7"/>
<circle cx="370.90" cy="70.00" r="2.7" fill="#fff" stroke="#bf001f" stroke-width="1.7"/>
<circle cx="378.90" cy="76.10" r="2.7" fill="#fff" stroke="#bf001f" stroke-width="1.7"/>
<circle cx="386.70" cy="81.00" r="2.7" fill="#fff" stroke="#bf001f" stroke-width="1.7"/>
<circle cx="402.30" cy="91.80" r="2.7" fill="#fff" stroke="#bf001f" stroke-width="1.7"/>
<circle cx="418.00" cy="101.20" r="2.7" fill="#fff" stroke="#bf001f" stroke-width="1.7"/>
<circle cx="449.50" cy="120.30" r="2.7" fill="#fff" stroke="#bf001f" stroke-width="1.7"/>
<circle cx="480.50" cy="138.80" r="2.7" fill="#fff" stroke="#bf001f" stroke-width="1.7"/>
<circle cx="511.80" cy="152.30" r="2.7" fill="#fff" stroke="#bf001f" stroke-width="1.7"/>
<path d="M324.30 124.50 L325.00 103.50 L326.00 90.50 L327.30 85.50 L329.70 83.00 L332.30 80.30 L334.80 83.20 L339.50 85.80 L347.30 88.50 L354.80 94.00 L363.00 99.80 L371.00 104.00 L379.00 108.70 L386.80 112.50 L402.30 124.50 L418.00 131.60 L449.50 154.50 L480.30 168.80" fill="none" stroke="#251f70" stroke-width="2.9" stroke-linejoin="round"/>
<line x1="324.30" y1="121.50" x2="324.30" y2="127.50" stroke="#2a2868" stroke-width="1.1"/>
<line x1="322.80" y1="121.50" x2="325.80" y2="121.50" stroke="#2a2868" stroke-width="1.1"/>
<line x1="322.80" y1="127.50" x2="325.80" y2="127.50" stroke="#2a2868" stroke-width="1.1"/>
<line x1="325.00" y1="100.50" x2="325.00" y2="106.50" stroke="#2a2868" stroke-width="1.1"/>
<line x1="323.50" y1="100.50" x2="326.50" y2="100.50" stroke="#2a2868" stroke-width="1.1"/>
<line x1="323.50" y1="106.50" x2="326.50" y2="106.50" stroke="#2a2868" stroke-width="1.1"/>
<line x1="326.00" y1="87.50" x2="326.00" y2="93.50" stroke="#2a2868" stroke-width="1.1"/>
<line x1="324.50" y1="87.50" x2="327.50" y2="87.50" stroke="#2a2868" stroke-width="1.1"/>
<line x1="324.50" y1="93.50" x2="327.50" y2="93.50" stroke="#2a2868" stroke-width="1.1"/>
<line x1="327.30" y1="82.50" x2="327.30" y2="88.50" stroke="#2a2868" stroke-width="1.1"/>
<line x1="325.80" y1="82.50" x2="328.80" y2="82.50" stroke="#2a2868" stroke-width="1.1"/>
<line x1="325.80" y1="88.50" x2="328.80" y2="88.50" stroke="#2a2868" stroke-width="1.1"/>
<line x1="329.70" y1="79.00" x2="329.70" y2="87.00" stroke="#2a2868" stroke-width="1.1"/>
<line x1="328.20" y1="79.00" x2="331.20" y2="79.00" stroke="#2a2868" stroke-width="1.1"/>
<line x1="328.20" y1="87.00" x2="331.20" y2="87.00" stroke="#2a2868" stroke-width="1.1"/>
<line x1="332.30" y1="76.30" x2="332.30" y2="84.30" stroke="#2a2868" stroke-width="1.1"/>
<line x1="330.80" y1="76.30" x2="333.80" y2="76.30" stroke="#2a2868" stroke-width="1.1"/>
<line x1="330.80" y1="84.30" x2="333.80" y2="84.30" stroke="#2a2868" stroke-width="1.1"/>
<line x1="334.80" y1="79.20" x2="334.80" y2="87.20" stroke="#2a2868" stroke-width="1.1"/>
<line x1="333.30" y1="79.20" x2="336.30" y2="79.20" stroke="#2a2868" stroke-width="1.1"/>
<line x1="333.30" y1="87.20" x2="336.30" y2="87.20" stroke="#2a2868" stroke-width="1.1"/>
<line x1="339.50" y1="81.80" x2="339.50" y2="89.80" stroke="#2a2868" stroke-width="1.1"/>
<line x1="338.00" y1="81.80" x2="341.00" y2="81.80" stroke="#2a2868" stroke-width="1.1"/>
<line x1="338.00" y1="89.80" x2="341.00" y2="89.80" stroke="#2a2868" stroke-width="1.1"/>
<line x1="347.30" y1="84.50" x2="347.30" y2="92.50" stroke="#2a2868" stroke-width="1.1"/>
<line x1="345.80" y1="84.50" x2="348.80" y2="84.50" stroke="#2a2868" stroke-width="1.1"/>
<line x1="345.80" y1="92.50" x2="348.80" y2="92.50" stroke="#2a2868" stroke-width="1.1"/>
<line x1="354.80" y1="90.00" x2="354.80" y2="98.00" stroke="#2a2868" stroke-width="1.1"/>
<line x1="353.30" y1="90.00" x2="356.30" y2="90.00" stroke="#2a2868" stroke-width="1.1"/>
<line x1="353.30" y1="98.00" x2="356.30" y2="98.00" stroke="#2a2868" stroke-width="1.1"/>
<line x1="363.00" y1="95.80" x2="363.00" y2="103.80" stroke="#2a2868" stroke-width="1.1"/>
<line x1="361.50" y1="95.80" x2="364.50" y2="95.80" stroke="#2a2868" stroke-width="1.1"/>
<line x1="361.50" y1="103.80" x2="364.50" y2="103.80" stroke="#2a2868" stroke-width="1.1"/>
<line x1="371.00" y1="100.00" x2="371.00" y2="108.00" stroke="#2a2868" stroke-width="1.1"/>
<line x1="369.50" y1="100.00" x2="372.50" y2="100.00" stroke="#2a2868" stroke-width="1.1"/>
<line x1="369.50" y1="108.00" x2="372.50" y2="108.00" stroke="#2a2868" stroke-width="1.1"/>
<line x1="379.00" y1="104.70" x2="379.00" y2="112.70" stroke="#2a2868" stroke-width="1.1"/>
<line x1="377.50" y1="104.70" x2="380.50" y2="104.70" stroke="#2a2868" stroke-width="1.1"/>
<line x1="377.50" y1="112.70" x2="380.50" y2="112.70" stroke="#2a2868" stroke-width="1.1"/>
<line x1="386.80" y1="108.50" x2="386.80" y2="116.50" stroke="#2a2868" stroke-width="1.1"/>
<line x1="385.30" y1="108.50" x2="388.30" y2="108.50" stroke="#2a2868" stroke-width="1.1"/>
<line x1="385.30" y1="116.50" x2="388.30" y2="116.50" stroke="#2a2868" stroke-width="1.1"/>
<line x1="402.30" y1="117.80" x2="402.30" y2="134.50" stroke="#2a2868" stroke-width="1.1"/>
<line x1="400.80" y1="117.80" x2="403.80" y2="117.80" stroke="#2a2868" stroke-width="1.1"/>
<line x1="400.80" y1="134.50" x2="403.80" y2="134.50" stroke="#2a2868" stroke-width="1.1"/>
<line x1="418.00" y1="122.90" x2="418.00" y2="141.10" stroke="#2a2868" stroke-width="1.1"/>
<line x1="416.50" y1="122.90" x2="419.50" y2="122.90" stroke="#2a2868" stroke-width="1.1"/>
<line x1="416.50" y1="141.10" x2="419.50" y2="141.10" stroke="#2a2868" stroke-width="1.1"/>
<line x1="449.50" y1="144.50" x2="449.50" y2="164.50" stroke="#2a2868" stroke-width="1.1"/>
<line x1="448.00" y1="144.50" x2="451.00" y2="144.50" stroke="#2a2868" stroke-width="1.1"/>
<line x1="448.00" y1="164.50" x2="451.00" y2="164.50" stroke="#2a2868" stroke-width="1.1"/>
<line x1="480.30" y1="157.30" x2="480.30" y2="189.50" stroke="#2a2868" stroke-width="1.1"/>
<line x1="478.80" y1="157.30" x2="481.80" y2="157.30" stroke="#2a2868" stroke-width="1.1"/>
<line x1="478.80" y1="189.50" x2="481.80" y2="189.50" stroke="#2a2868" stroke-width="1.1"/>
<path d="M324.30 120.66L328.05 127.06L320.55 127.06Z" fill="#fff" stroke="#251f70" stroke-width="1.7" stroke-linejoin="miter"/>
<path d="M325.00 99.66L328.75 106.06L321.25 106.06Z" fill="#fff" stroke="#251f70" stroke-width="1.7" stroke-linejoin="miter"/>
<path d="M326.00 86.66L329.75 93.06L322.25 93.06Z" fill="#fff" stroke="#251f70" stroke-width="1.7" stroke-linejoin="miter"/>
<path d="M327.30 81.66L331.05 88.06L323.55 88.06Z" fill="#fff" stroke="#251f70" stroke-width="1.7" stroke-linejoin="miter"/>
<path d="M329.70 79.16L333.45 85.56L325.95 85.56Z" fill="#fff" stroke="#251f70" stroke-width="1.7" stroke-linejoin="miter"/>
<path d="M332.30 76.46L336.05 82.86L328.55 82.86Z" fill="#fff" stroke="#251f70" stroke-width="1.7" stroke-linejoin="miter"/>
<path d="M334.80 79.36L338.55 85.76L331.05 85.76Z" fill="#fff" stroke="#251f70" stroke-width="1.7" stroke-linejoin="miter"/>
<path d="M339.50 81.96L343.25 88.36L335.75 88.36Z" fill="#fff" stroke="#251f70" stroke-width="1.7" stroke-linejoin="miter"/>
<path d="M347.30 84.66L351.05 91.06L343.55 91.06Z" fill="#fff" stroke="#251f70" stroke-width="1.7" stroke-linejoin="miter"/>
<path d="M354.80 90.16L358.55 96.56L351.05 96.56Z" fill="#fff" stroke="#251f70" stroke-width="1.7" stroke-linejoin="miter"/>
<path d="M363.00 95.96L366.75 102.36L359.25 102.36Z" fill="#fff" stroke="#251f70" stroke-width="1.7" stroke-linejoin="miter"/>
<path d="M371.00 100.16L374.75 106.56L367.25 106.56Z" fill="#fff" stroke="#251f70" stroke-width="1.7" stroke-linejoin="miter"/>
<path d="M379.00 104.86L382.75 111.26L375.25 111.26Z" fill="#fff" stroke="#251f70" stroke-width="1.7" stroke-linejoin="miter"/>
<path d="M386.80 108.66L390.55 115.06L383.05 115.06Z" fill="#fff" stroke="#251f70" stroke-width="1.7" stroke-linejoin="miter"/>
<path d="M402.30 120.66L406.05 127.06L398.55 127.06Z" fill="#fff" stroke="#251f70" stroke-width="1.7" stroke-linejoin="miter"/>
<path d="M418.00 127.76L421.75 134.16L414.25 134.16Z" fill="#fff" stroke="#251f70" stroke-width="1.7" stroke-linejoin="miter"/>
<path d="M449.50 150.66L453.25 157.06L445.75 157.06Z" fill="#fff" stroke="#251f70" stroke-width="1.7" stroke-linejoin="miter"/>
<path d="M480.30 164.96L484.05 171.36L476.55 171.36Z" fill="#fff" stroke="#251f70" stroke-width="1.7" stroke-linejoin="miter"/>
<path d="M325.50 156.00 L325.50 148.50 L326.50 142.30 L327.30 136.00 L328.20 130.00 L330.80 125.00 L334.00 122.60 L339.80 123.20 L347.60 123.90 L355.30 126.70 L363.40 133.40 L371.30 138.90 L378.90 142.50 L386.50 149.80 L402.50 154.00 L418.00 162.20 L449.00 174.80" fill="none" stroke="#5eab46" stroke-width="2.9" stroke-linejoin="round"/>
<line x1="325.50" y1="152.00" x2="325.50" y2="192.00" stroke="#658a52" stroke-width="1.1"/>
<line x1="324.00" y1="152.00" x2="327.00" y2="152.00" stroke="#658a52" stroke-width="1.1"/>
<line x1="324.00" y1="192.00" x2="327.00" y2="192.00" stroke="#658a52" stroke-width="1.1"/>
<line x1="325.50" y1="145.50" x2="325.50" y2="151.50" stroke="#658a52" stroke-width="1.1"/>
<line x1="324.00" y1="145.50" x2="327.00" y2="145.50" stroke="#658a52" stroke-width="1.1"/>
<line x1="324.00" y1="151.50" x2="327.00" y2="151.50" stroke="#658a52" stroke-width="1.1"/>
<line x1="326.50" y1="139.30" x2="326.50" y2="145.30" stroke="#658a52" stroke-width="1.1"/>
<line x1="325.00" y1="139.30" x2="328.00" y2="139.30" stroke="#658a52" stroke-width="1.1"/>
<line x1="325.00" y1="145.30" x2="328.00" y2="145.30" stroke="#658a52" stroke-width="1.1"/>
<line x1="327.30" y1="133.00" x2="327.30" y2="139.00" stroke="#658a52" stroke-width="1.1"/>
<line x1="325.80" y1="133.00" x2="328.80" y2="133.00" stroke="#658a52" stroke-width="1.1"/>
<line x1="325.80" y1="139.00" x2="328.80" y2="139.00" stroke="#658a52" stroke-width="1.1"/>
<line x1="328.20" y1="127.00" x2="328.20" y2="133.00" stroke="#658a52" stroke-width="1.1"/>
<line x1="326.70" y1="127.00" x2="329.70" y2="127.00" stroke="#658a52" stroke-width="1.1"/>
<line x1="326.70" y1="133.00" x2="329.70" y2="133.00" stroke="#658a52" stroke-width="1.1"/>
<line x1="330.80" y1="121.00" x2="330.80" y2="129.00" stroke="#658a52" stroke-width="1.1"/>
<line x1="329.30" y1="121.00" x2="332.30" y2="121.00" stroke="#658a52" stroke-width="1.1"/>
<line x1="329.30" y1="129.00" x2="332.30" y2="129.00" stroke="#658a52" stroke-width="1.1"/>
<line x1="334.00" y1="117.10" x2="334.00" y2="130.40" stroke="#658a52" stroke-width="1.1"/>
<line x1="332.50" y1="117.10" x2="335.50" y2="117.10" stroke="#658a52" stroke-width="1.1"/>
<line x1="332.50" y1="130.40" x2="335.50" y2="130.40" stroke="#658a52" stroke-width="1.1"/>
<line x1="339.80" y1="117.10" x2="339.80" y2="129.30" stroke="#658a52" stroke-width="1.1"/>
<line x1="338.30" y1="117.10" x2="341.30" y2="117.10" stroke="#658a52" stroke-width="1.1"/>
<line x1="338.30" y1="129.30" x2="341.30" y2="129.30" stroke="#658a52" stroke-width="1.1"/>
<line x1="347.60" y1="117.80" x2="347.60" y2="130.80" stroke="#658a52" stroke-width="1.1"/>
<line x1="346.10" y1="117.80" x2="349.10" y2="117.80" stroke="#658a52" stroke-width="1.1"/>
<line x1="346.10" y1="130.80" x2="349.10" y2="130.80" stroke="#658a52" stroke-width="1.1"/>
<line x1="355.30" y1="119.20" x2="355.30" y2="135.40" stroke="#658a52" stroke-width="1.1"/>
<line x1="353.80" y1="119.20" x2="356.80" y2="119.20" stroke="#658a52" stroke-width="1.1"/>
<line x1="353.80" y1="135.40" x2="356.80" y2="135.40" stroke="#658a52" stroke-width="1.1"/>
<line x1="363.40" y1="123.90" x2="363.40" y2="145.60" stroke="#658a52" stroke-width="1.1"/>
<line x1="361.90" y1="123.90" x2="364.90" y2="123.90" stroke="#658a52" stroke-width="1.1"/>
<line x1="361.90" y1="145.60" x2="364.90" y2="145.60" stroke="#658a52" stroke-width="1.1"/>
<line x1="371.30" y1="128.30" x2="371.30" y2="154.80" stroke="#658a52" stroke-width="1.1"/>
<line x1="369.80" y1="128.30" x2="372.80" y2="128.30" stroke="#658a52" stroke-width="1.1"/>
<line x1="369.80" y1="154.80" x2="372.80" y2="154.80" stroke="#658a52" stroke-width="1.1"/>
<line x1="378.90" y1="132.40" x2="378.90" y2="156.80" stroke="#658a52" stroke-width="1.1"/>
<line x1="377.40" y1="132.40" x2="380.40" y2="132.40" stroke="#658a52" stroke-width="1.1"/>
<line x1="377.40" y1="156.80" x2="380.40" y2="156.80" stroke="#658a52" stroke-width="1.1"/>
<line x1="386.50" y1="137.30" x2="386.50" y2="169.80" stroke="#658a52" stroke-width="1.1"/>
<line x1="385.00" y1="137.30" x2="388.00" y2="137.30" stroke="#658a52" stroke-width="1.1"/>
<line x1="385.00" y1="169.80" x2="388.00" y2="169.80" stroke="#658a52" stroke-width="1.1"/>
<line x1="402.50" y1="141.00" x2="402.50" y2="173.50" stroke="#658a52" stroke-width="1.1"/>
<line x1="401.00" y1="141.00" x2="404.00" y2="141.00" stroke="#658a52" stroke-width="1.1"/>
<line x1="401.00" y1="173.50" x2="404.00" y2="173.50" stroke="#658a52" stroke-width="1.1"/>
<line x1="418.00" y1="148.50" x2="418.00" y2="187.00" stroke="#658a52" stroke-width="1.1"/>
<line x1="416.50" y1="148.50" x2="419.50" y2="148.50" stroke="#658a52" stroke-width="1.1"/>
<line x1="416.50" y1="187.00" x2="419.50" y2="187.00" stroke="#658a52" stroke-width="1.1"/>
<line x1="449.00" y1="163.50" x2="449.00" y2="190.00" stroke="#658a52" stroke-width="1.1"/>
<line x1="447.50" y1="163.50" x2="450.50" y2="163.50" stroke="#658a52" stroke-width="1.1"/>
<line x1="447.50" y1="190.00" x2="450.50" y2="190.00" stroke="#658a52" stroke-width="1.1"/>
<rect x="323.20" y="153.70" width="4.6" height="4.6" fill="#fff" stroke="#5eab46" stroke-width="1.6"/>
<rect x="323.20" y="146.20" width="4.6" height="4.6" fill="#fff" stroke="#5eab46" stroke-width="1.6"/>
<rect x="324.20" y="140.00" width="4.6" height="4.6" fill="#fff" stroke="#5eab46" stroke-width="1.6"/>
<rect x="325.00" y="133.70" width="4.6" height="4.6" fill="#fff" stroke="#5eab46" stroke-width="1.6"/>
<rect x="325.90" y="127.70" width="4.6" height="4.6" fill="#fff" stroke="#5eab46" stroke-width="1.6"/>
<rect x="328.50" y="122.70" width="4.6" height="4.6" fill="#fff" stroke="#5eab46" stroke-width="1.6"/>
<rect x="331.70" y="120.30" width="4.6" height="4.6" fill="#fff" stroke="#5eab46" stroke-width="1.6"/>
<rect x="337.50" y="120.90" width="4.6" height="4.6" fill="#fff" stroke="#5eab46" stroke-width="1.6"/>
<rect x="345.30" y="121.60" width="4.6" height="4.6" fill="#fff" stroke="#5eab46" stroke-width="1.6"/>
<rect x="353.00" y="124.40" width="4.6" height="4.6" fill="#fff" stroke="#5eab46" stroke-width="1.6"/>
<rect x="361.10" y="131.10" width="4.6" height="4.6" fill="#fff" stroke="#5eab46" stroke-width="1.6"/>
<rect x="369.00" y="136.60" width="4.6" height="4.6" fill="#fff" stroke="#5eab46" stroke-width="1.6"/>
<rect x="376.60" y="140.20" width="4.6" height="4.6" fill="#fff" stroke="#5eab46" stroke-width="1.6"/>
<rect x="384.20" y="147.50" width="4.6" height="4.6" fill="#fff" stroke="#5eab46" stroke-width="1.6"/>
<rect x="400.20" y="151.70" width="4.6" height="4.6" fill="#fff" stroke="#5eab46" stroke-width="1.6"/>
<rect x="415.70" y="159.90" width="4.6" height="4.6" fill="#fff" stroke="#5eab46" stroke-width="1.6"/>
<rect x="446.70" y="172.50" width="4.6" height="4.6" fill="#fff" stroke="#5eab46" stroke-width="1.6"/>
</g>
<line x1="157.50" y1="41.50" x2="178.20" y2="41.50" stroke="#bf001f" stroke-width="2.8"/>
<circle cx="167.90" cy="41.50" r="2.7" fill="#fff" stroke="#bf001f" stroke-width="1.7"/>
<text x="186.30" y="46.50" font-family="Liberation Sans, sans-serif" font-size="10.4" stroke="#111" stroke-width="0.55" fill="#111">1 mg/kg</text>
<line x1="157.50" y1="53.95" x2="178.20" y2="53.95" stroke="#251f70" stroke-width="2.8"/>
<path d="M167.90 50.11L171.65 56.51L164.15 56.51Z" fill="#fff" stroke="#251f70" stroke-width="1.7" stroke-linejoin="miter"/>
<text x="186.30" y="58.95" font-family="Liberation Sans, sans-serif" font-size="10.4" stroke="#111" stroke-width="0.55" fill="#111">0.3 mg/kg</text>
<line x1="157.50" y1="66.40" x2="178.20" y2="66.40" stroke="#5eab46" stroke-width="2.8"/>
<rect x="165.60" y="64.10" width="4.6" height="4.6" fill="#fff" stroke="#5eab46" stroke-width="1.6"/>
<text x="186.30" y="71.40" font-family="Liberation Sans, sans-serif" font-size="10.4" stroke="#111" stroke-width="0.55" fill="#111">0.1 mg/kg</text>
<line x1="157.50" y1="78.85" x2="178.20" y2="78.85" stroke="#a0168a" stroke-width="2.8"/>
<path d="M167.90 82.45L171.40 76.45L164.40 76.45Z" fill="#fff" stroke="#a0168a" stroke-width="1.7"/>
<text x="186.30" y="83.85" font-family="Liberation Sans, sans-serif" font-size="10.4" stroke="#111" stroke-width="0.55" fill="#111">0.01 mg/kg</text>
<line x1="425.90" y1="41.50" x2="446.60" y2="41.50" stroke="#bf001f" stroke-width="2.8"/>
<circle cx="436.30" cy="41.50" r="2.7" fill="#fff" stroke="#bf001f" stroke-width="1.7"/>
<text x="454.70" y="46.50" font-family="Liberation Sans, sans-serif" font-size="10.4" stroke="#111" stroke-width="0.55" fill="#111">1 mg/kg</text>
<line x1="425.90" y1="53.95" x2="446.60" y2="53.95" stroke="#251f70" stroke-width="2.8"/>
<path d="M436.30 50.11L440.05 56.51L432.55 56.51Z" fill="#fff" stroke="#251f70" stroke-width="1.7" stroke-linejoin="miter"/>
<text x="454.70" y="58.95" font-family="Liberation Sans, sans-serif" font-size="10.4" stroke="#111" stroke-width="0.55" fill="#111">0.3 mg/kg</text>
<line x1="425.90" y1="66.40" x2="446.60" y2="66.40" stroke="#5eab46" stroke-width="2.8"/>
<rect x="434.00" y="64.10" width="4.6" height="4.6" fill="#fff" stroke="#5eab46" stroke-width="1.6"/>
<text x="454.70" y="71.40" font-family="Liberation Sans, sans-serif" font-size="10.4" stroke="#111" stroke-width="0.55" fill="#111">0.1 mg/kg</text>
</svg></body></html>
